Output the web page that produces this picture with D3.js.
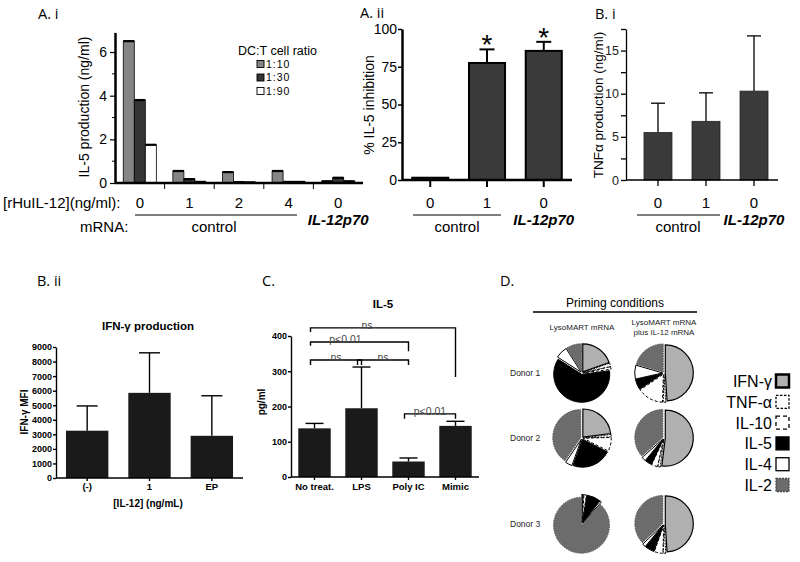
<!DOCTYPE html>
<html><head><meta charset="utf-8">
<script src="https://cdn.jsdelivr.net/npm/d3@7"></script>
<style>body{margin:0;background:#fff}svg{display:block;font-family:"Liberation Sans",Arial,sans-serif}</style>
</head><body><svg id="c" width="800" height="562"></svg>
<script>
// ---------- DATA ----------
// Panel A.i
const aiDoses = ["0", "1", "2", "4", "0"];
const aiRatios = ["1:10", "1:30", "1:90"];
const aiValues = [
  [6.5, 3.8, 1.75],
  [0.55, 0.18, 0.05],
  [0.5, 0.04, 0.03],
  [0.55, 0.05, 0.05],
  [0.08, 0.24, 0.08]
];
const aiTicks = [0, 2, 4, 6];
// Panel A.ii
const aiiDoses = ["0", "1", "0"];
const aiiValues = [1.5, 77.5, 85.5];
const aiiErrTop = [null, 86.5, 91.5];
const aiiSignif = [false, true, true];
const aiiTicks = [0, 25, 50, 75, 100];
// Panel B.i
const biDoses = ["0", "1", "0"];
const biValues = [5.5, 6.8, 10.3];
const biErrTop = [8.9, 10.1, 16.7];
const biTicks = [0, 2.5, 5, 7.5, 10, 12.5, 15, 17.5];
// Panel B.ii
const biiCats = ["(-)", "1", "EP"];
const biiValues = [3250, 5850, 2900];
const biiErrTop = [4950, 8600, 5650];
const biiTicks = [0, 1000, 2000, 3000, 4000, 5000, 6000, 7000, 8000, 9000];
// Panel C
const cCats = ["No treat.", "LPS", "Poly IC", "Mimic"];
const cValues = [138, 195, 44, 145];
const cErrTop = [152, 312, 54, 158];
const cTicks = [0, 100, 200, 300, 400];
// brackets: [from, to, level, leftEnd, rightEnd, label]
const cBrackets = [
  ["No treat.", "Mimic", 423, 411, 284, "ns"],
  ["No treat.", "Poly IC", 383, 372, 357, "p<0.01"],
  ["No treat.", "LPS", 332, 318, 318, "ns"],
  ["LPS", "Poly IC", 332, 318, 318, "ns"],
  ["Poly IC", "Mimic", 179, 165, 165, "p<0.01"]
];
// Panel D
const dCategories = ["IFN-γ", "TNF-α", "IL-10", "IL-5", "IL-4", "IL-2"];
const dDonors = ["Donor 1", "Donor 2", "Donor 3"];
const dConditions = ["LysoMART mRNA", "LysoMART mRNA|plus IL-12 mRNA"];
const donor1Lyso = [19.5, 2, 1.5, 61, 7, 9];
const donor1Plus = [49, 1.5, 15, 6, 8, 20.5];
const donor2Lyso = [23, 1.5, 8, 23, 4, 40.5];
const donor2Plus = [52, 1.5, 3.5, 4, 2.5, 36.5];
const donor3Lyso = [0.5, 0.5, 1.5, 8, 1, 88.5];
const donor3Plus = [49, 1.5, 5, 5.5, 2, 37];

// ---------- DRAW ----------
const svg = d3.select("#c");
svg.append("rect").attr("width", 800).attr("height", 562).attr("fill", "#fff");
const SANS = '"Liberation Sans", Arial, sans-serif';
const LBL = '"Open Sans", "Liberation Sans", sans-serif';

function txt(g, x, y, s, o = {}) {
  const t = g.append("text").attr("x", x).attr("y", y).text(s)
    .attr("font-size", o.size || 13).attr("font-family", o.family || SANS)
    .attr("text-anchor", o.anchor || "start").attr("fill", o.fill || "#000");
  if (o.weight) t.attr("font-weight", o.weight);
  if (o.style) t.attr("font-style", o.style);
  if (o.rotate) t.attr("transform", `rotate(-90,${x},${y})`);
  return t;
}
function line(g, x1, y1, x2, y2, w = 1, c = "#000") {
  g.append("line").attr("x1", x1).attr("y1", y1).attr("x2", x2).attr("y2", y2)
    .attr("stroke", c).attr("stroke-width", w);
}
function styleAxis(ax, size, weight, fill, sw) {
  ax.attr("font-family", SANS).attr("font-size", size);
  if (weight) ax.attr("font-weight", weight);
  ax.selectAll("text").attr("fill", fill || "#000");
  ax.selectAll("line").attr("stroke", "#000").attr("stroke-width", sw);
  ax.select(".domain").attr("stroke", "#000").attr("stroke-width", sw);
}
function errBar(g, x, yTop, yBase, cap, w) {
  line(g, x, yBase, x, yTop, w);
  line(g, x - cap / 2, yTop, x + cap / 2, yTop, w);
}

// ===== Panel A.i =====
{
  const g = svg.append("g");
  txt(g, 38, 19, "A.  i", { size: 14.5, family: LBL });
  const x0 = d3.scaleBand().domain(d3.range(aiDoses.length)).range([115, 363]);
  const x1 = d3.scaleBand().domain(aiRatios).range([0, x0.bandwidth()]).paddingOuter(0.75);
  const y = d3.scaleLinear().domain([0, 6.9]).range([183, 32.4]);
  const fills = { "1:10": "#858585", "1:30": "#353535", "1:90": "#ffffff" };
  aiValues.forEach((vals, gi) => {
    vals.forEach((v, si) => {
      const r = aiRatios[si];
      const bx = x0(gi) + x1(r);
      g.append("rect").attr("x", bx).attr("y", y(v)).attr("width", x1.bandwidth())
        .attr("height", y(0) - y(v)).attr("fill", fills[r]).attr("stroke", "#000").attr("stroke-width", 0.8);
      line(g, bx, y(v), bx + x1.bandwidth(), y(v), 2.2);
    });
  });
  [1, 3, 5].forEach(v => line(g, 112, y(v), 115, y(v), 1));
  const ax = g.append("g").attr("transform", "translate(115,0)")
    .call(d3.axisLeft(y).tickValues(aiTicks).tickSize(5).tickSizeOuter(0).tickPadding(3).tickFormat(d3.format("d")));
  styleAxis(ax, 14, null, "#000", 1.2);
  ax.select(".domain").attr("stroke-width", 2.5);
  line(g, 115, 183, 363, 183, 2.5);
  d3.range(1, aiDoses.length).forEach(i => line(g, x0(i), 183, x0(i), 189, 1));
  txt(g, 89, 107, "IL-5 production (ng/ml)", { size: 14, anchor: "middle", rotate: true });
  // legend
  txt(g, 238, 55, "DC:T cell ratio", { size: 12.5 });
  aiRatios.forEach((r, i) => {
    const cy = 64 + i * 13.5;
    g.append("rect").attr("x", 257).attr("y", cy - 3.5).attr("width", 7).attr("height", 7)
      .attr("fill", fills[r]).attr("stroke", "#000").attr("stroke-width", 0.9);
    txt(g, 266, cy + 3.5, r, { size: 10.5 }).attr("letter-spacing", 1);
  });
  // category labels
  txt(g, 3, 208, "[rHuIL-12](ng/ml):", { size: 15 });
  aiDoses.forEach((d, i) => txt(g, x0(i) + x0.bandwidth() / 2, 208, d, { size: 15, anchor: "middle" }));
  txt(g, 80, 232, "mRNA:", { size: 15 });
  line(g, 135, 215, 297, 215, 1.2);
  txt(g, 214, 232, "control", { size: 15, anchor: "middle" });
  txt(g, x0(4) + x0.bandwidth() / 2, 225, "IL-12p70", { size: 15, anchor: "middle", weight: "bold", style: "italic" });
}

// ===== Panel A.ii =====
{
  const g = svg.append("g");
  txt(g, 360, 18, "A.  ii", { size: 14.5, family: LBL });
  const x = d3.scaleBand().domain(d3.range(aiiValues.length)).range([402, 572]).paddingInner(0.365).paddingOuter(0.18);
  const y = d3.scaleLinear().domain([0, 100]).range([180, 29]);
  aiiValues.forEach((v, i) => {
    g.append("rect").attr("x", x(i)).attr("y", y(v)).attr("width", x.bandwidth())
      .attr("height", y(0) - y(v)).attr("fill", "#3a3a3a").attr("stroke", "#000").attr("stroke-width", 2);
    const cx = x(i) + x.bandwidth() / 2;
    if (aiiErrTop[i] != null) errBar(g, cx, y(aiiErrTop[i]), y(v), 15, 2);
    if (aiiSignif[i]) txt(g, cx, y(aiiErrTop[i]) + 5, "*", { size: 28, anchor: "middle" });
    line(g, cx, 180, cx, 187, 2);
    txt(g, cx, 208, aiiDoses[i], { size: 15, anchor: "middle" });
  });
  const ax = g.append("g").attr("transform", "translate(402,0)")
    .call(d3.axisLeft(y).tickValues(aiiTicks).tickSize(4).tickSizeOuter(0).tickPadding(1).tickFormat(d3.format("d")));
  styleAxis(ax, 14, null, "#000", 1.5);
  ax.select(".domain").attr("stroke-width", 2.5);
  line(g, 402, 180, 572, 180, 2.5);
  txt(g, 374, 105, "% IL-5 inhibition", { size: 14, anchor: "middle", rotate: true });
  line(g, 413, 215, 501, 215, 1.2);
  txt(g, 457, 232, "control", { size: 15, anchor: "middle" });
  txt(g, x(2) + x.bandwidth() / 2, 225, "IL-12p70", { size: 15, anchor: "middle", weight: "bold", style: "italic" });
}

// ===== Panel B.i =====
{
  const g = svg.append("g");
  txt(g, 595, 19, "B.  i", { size: 14.5, family: LBL });
  const x = d3.scaleBand().domain(d3.range(biValues.length)).range([634, 778]).paddingInner(0.417).paddingOuter(0.208);
  const y = d3.scaleLinear().domain([0, 17.5]).range([180, 29]);
  biValues.forEach((v, i) => {
    const cx = x(i) + x.bandwidth() / 2;
    errBar(g, cx, y(biErrTop[i]), y(v), 14, 1.3);
    g.append("rect").attr("x", x(i)).attr("y", y(v)).attr("width", x.bandwidth())
      .attr("height", y(0) - y(v)).attr("fill", "#3a3a3a").attr("stroke", "#222").attr("stroke-width", 0.8);
    line(g, cx, 180, cx, 186, 1.3);
    txt(g, cx, 208, biDoses[i], { size: 15, anchor: "middle" });
  });
  const ax = g.append("g").attr("transform", "translate(626,0)")
    .call(d3.axisLeft(y).tickValues(biTicks).tickSize(5).tickSizeOuter(0).tickPadding(2)
      .tickFormat(d => d % 5 === 0 ? d3.format("d")(d) : ""));
  styleAxis(ax, 12.5, null, "#222", 1.3);
  line(g, 626, 180, 778, 180, 1.3);
  txt(g, 603, 105, "TNFα production (ng/ml)", { size: 13.5, anchor: "middle", rotate: true });
  line(g, 637, 215, 720, 215, 1.2);
  txt(g, 678, 232, "control", { size: 15, anchor: "middle" });
  txt(g, x(2) + x.bandwidth() / 2, 225, "IL-12p70", { size: 15, anchor: "middle", weight: "bold", style: "italic" });
}

// ===== Panel B.ii =====
{
  const g = svg.append("g");
  txt(g, 37, 286, "B.  ii", { size: 14.5, family: LBL });
  const x = d3.scaleBand().domain(biiCats).range([56, 243]).paddingInner(0.32).paddingOuter(0.16);
  const y = d3.scaleLinear().domain([0, 9000]).range([478, 347]);
  txt(g, 148, 330, "IFN-γ production", { size: 11.5, anchor: "middle", weight: "bold" });
  biiCats.forEach((c, i) => {
    const cx = x(c) + x.bandwidth() / 2;
    errBar(g, cx, y(biiErrTop[i]), y(biiValues[i]), 21, 1.4);
    g.append("rect").attr("x", x(c)).attr("y", y(biiValues[i])).attr("width", x.bandwidth())
      .attr("height", y(0) - y(biiValues[i])).attr("fill", "#1a1a1a");
  });
  const ax = g.append("g").attr("transform", "translate(56,0)")
    .call(d3.axisLeft(y).tickValues(biiTicks).tickSize(3).tickSizeOuter(0).tickPadding(1).tickFormat(d3.format("d")));
  styleAxis(ax, 9, "bold", "#000", 1.4);
  const bx = g.append("g").attr("transform", "translate(0,478)")
    .call(d3.axisBottom(x).tickSize(3).tickSizeOuter(0).tickPadding(2));
  styleAxis(bx, 9.5, "bold", "#000", 1.4);
  bx.select(".domain").attr("d", "M56,0H243");
  txt(g, 148, 507, "[IL-12] (ng/mL)", { size: 10, anchor: "middle", weight: "bold" });
  txt(g, 28, 412, "IFN-γ MFI", { size: 10, anchor: "middle", weight: "bold", rotate: true });
}

// ===== Panel C =====
{
  const g = svg.append("g");
  txt(g, 262, 286, "C.", { size: 14.5, family: LBL });
  const x = d3.scaleBand().domain(cCats).range([291, 479]).paddingInner(0.31).paddingOuter(0.155);
  const y = d3.scaleLinear().domain([0, 400]).range([477, 336]);
  txt(g, 383, 308, "IL-5", { size: 11.5, anchor: "middle", weight: "bold" });
  cCats.forEach((c, i) => {
    const cx = x(c) + x.bandwidth() / 2;
    errBar(g, cx, y(cErrTop[i]), y(cValues[i]), 18, 1.4);
    g.append("rect").attr("x", x(c)).attr("y", y(cValues[i])).attr("width", x.bandwidth())
      .attr("height", y(0) - y(cValues[i])).attr("fill", "#1a1a1a");
  });
  const ax = g.append("g").attr("transform", "translate(291,0)")
    .call(d3.axisLeft(y).tickValues(cTicks).tickSize(3).tickSizeOuter(0).tickPadding(1).tickFormat(d3.format("d")));
  styleAxis(ax, 9, "bold", "#000", 1.4);
  const bx = g.append("g").attr("transform", "translate(0,477)")
    .call(d3.axisBottom(x).tickSize(3).tickSizeOuter(0).tickPadding(3));
  styleAxis(bx, 9.5, "bold", "#000", 1.4);
  bx.select(".domain").attr("d", "M291,0H479");
  txt(g, 265, 402, "pg/ml", { size: 10, anchor: "middle", weight: "bold", rotate: true });
  const cxOf = c => x(c) + x.bandwidth() / 2;
  cBrackets.forEach(([a, b, lv, le, re, lab]) => {
    const xa = cxOf(a) - 4, xb = cxOf(b);
    g.append("path").attr("d", `M${xa},${y(le)}V${y(lv)}H${xb}V${y(re)}`)
      .attr("fill", "none").attr("stroke", "#000").attr("stroke-width", 1.4);
    const shift = (a === "No treat." && b === "Mimic") ? -16 : (a === "No treat." && b === "Poly IC") ? -14 : 0;
    txt(g, (xa + xb) / 2 + shift, y(lv) + 1, lab, { size: 10.5, anchor: "middle", fill: "#4a4a4a" });
  });
}

// ===== Panel D =====
{
  const g = svg.append("g");
  txt(g, 500, 286, "D.", { size: 14.5, family: LBL });
  txt(g, 615, 307, "Priming conditions", { size: 12, anchor: "middle" });
  line(g, 533, 312, 697, 312, 1.4);
  const colX = [582, 664];
  const rowY = [373, 438, 524];
  dConditions.forEach((c, i) => {
    const parts = c.split("|");
    const y0 = parts.length > 1 ? 325 : 330;
    parts.forEach((p, j) => txt(g, colX[i], y0 + j * 10, p, { size: 8, anchor: "middle", fill: "#222" }));
  });
  dDonors.forEach((d, i) => txt(g, 510, rowY[i] + 3, d, { size: 8.5, fill: "#222" }));
  const styles = {
    "IFN-γ": { fill: "#b0b0b0", stroke: "#000", sw: 1.2, dash: null },
    "TNF-α": { fill: "#fff", stroke: "#000", sw: 1, dash: "2,1" },
    "IL-10": { fill: "#fff", stroke: "#000", sw: 1, dash: "3,2" },
    "IL-5": { fill: "#000", stroke: "#000", sw: 1, dash: null },
    "IL-4": { fill: "#fff", stroke: "#000", sw: 1, dash: null },
    "IL-2": { fill: "#6c6c6c", stroke: "#555", sw: 1, dash: "1.5,1" }
  };
  const pies = [[donor1Lyso, donor1Plus], [donor2Lyso, donor2Plus], [donor3Lyso, donor3Plus]];
  const pie = d3.pie().sort(null).value(d => d.v);
  const arc = d3.arc().innerRadius(0).outerRadius(28);
  pies.forEach((row, ri) => row.forEach((vals, ci) => {
    const data = vals.map((v, k) => ({ k: dCategories[k], v }));
    const pg = g.append("g").attr("transform", `translate(${colX[ci]},${rowY[ri]})`);
    pie(data).forEach(s => {
      const mid = (s.startAngle + s.endAngle) / 2;
      const off = 1.3;
      const st = styles[s.data.k];
      const p = pg.append("path").attr("d", arc(s))
        .attr("transform", `translate(${off * Math.sin(mid)},${-off * Math.cos(mid)})`)
        .attr("fill", st.fill).attr("stroke", st.stroke).attr("stroke-width", st.sw);
      if (st.dash) p.attr("stroke-dasharray", st.dash);
    });
  }));
  // legend
  dCategories.forEach((c, i) => {
    const cy = 381 + i * 20.8;
    txt(g, 772, cy + 6, c, { size: 16, anchor: "end" });
    const st = styles[c];
    const r = g.append("rect").attr("x", 776).attr("y", cy - 6.5).attr("width", 13).attr("height", 13)
      .attr("fill", st.fill).attr("stroke", c === "IL-2" ? "#444" : "#000")
      .attr("stroke-width", c === "IFN-γ" ? 2.5 : 1.3);
    if (c === "TNF-α") r.attr("stroke-dasharray", "2.5,1.5");
    if (c === "IL-10") r.attr("stroke-dasharray", "4,3");
    if (c === "IL-2") r.attr("stroke-dasharray", "2,1");
  });
}
</script></body></html>
